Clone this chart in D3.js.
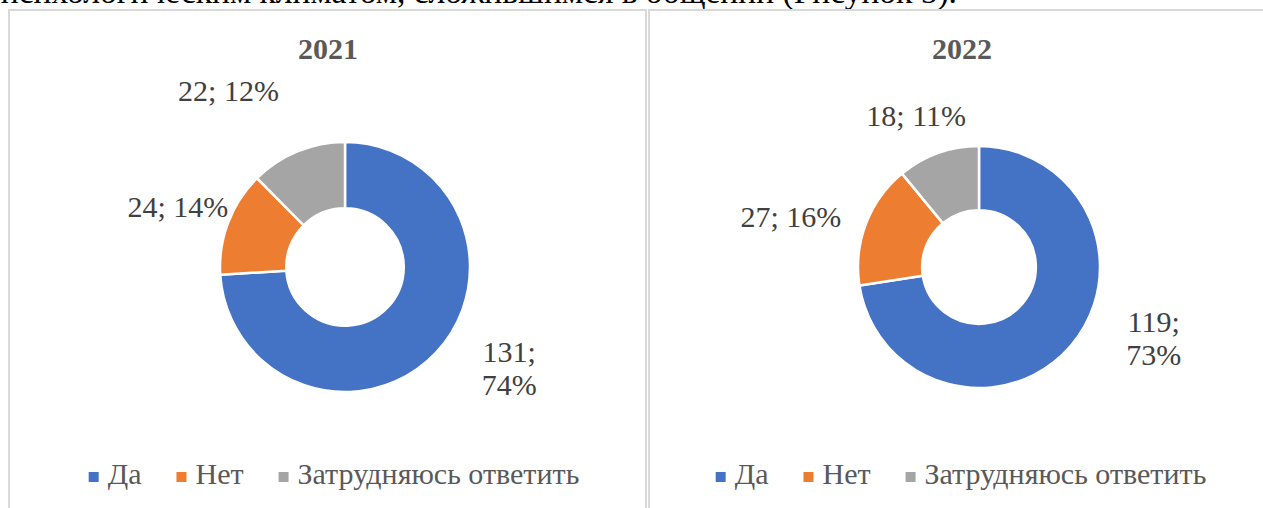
<!DOCTYPE html>
<html>
<head>
<meta charset="utf-8">
<script src="https://cdn.jsdelivr.net/npm/d3@7"></script>
<style>
  body { margin: 0; background: #fff; }
  svg { display: block; }
</style>
</head>
<body>
<div id="chart"></div>
<script>
// data
const categories = ['Да', 'Нет', 'Затрудняюсь ответить'];
const years = ['2021', '2022'];
const values2021 = [131, 24, 22];
const values2022 = [119, 27, 18];
const colors = ['#4472C4', '#ED7D31', '#A5A5A5'];

const width = 1263;
const height = 508;
const font = "Times New Roman, Tinos, serif";

// panel layout (left panel / right panel)
const panels = [
    { x: 9, w: 637, cx: 328, legendCx: 334, r: 125, values: values2021,
      nudge: [[33, -21], [1, 4], [-48, -9]] },
    { x: 649, w: 627, cx: 962, legendCx: 961, r: 121, values: values2022,
      nudge: [[38, -45], [-20, 14], [-2, 19]] }
];

const svg = d3.select('#chart')
    .append('svg')
    .attr('width', width)
    .attr('height', height);

svg.append('rect')
    .attr('width', width)
    .attr('height', height)
    .attr('fill', '#fff');

// cut line of the document text above the figure
svg.append('text')
    .attr('x', 957)
    .attr('y', 3)
    .attr('text-anchor', 'end')
    .style('font-family', font)
    .attr('font-size', 33.5)
    .attr('fill', '#000')
    .text('психологическим климатом, сложившимся в общении (Рисунок 5).');

const pie = d3.pie().sort(null).value(d => d);

panels.forEach((p, i) => {
    const g = svg.append('g');

    // panel border
    g.append('rect')
        .attr('x', p.x)
        .attr('y', 10)
        .attr('width', p.w)
        .attr('height', 600)
        .attr('fill', 'none')
        .attr('stroke', '#d9d9d9')
        .attr('stroke-width', 2);

    // title
    g.append('text')
        .attr('x', p.cx)
        .attr('y', 59)
        .attr('text-anchor', 'middle')
        .style('font-family', font)
        .attr('font-size', 30)
        .attr('font-weight', 'bold')
        .attr('fill', '#595959')
        .text(years[i]);

    const total = d3.sum(p.values);
    const arcs = pie(p.values);

    const arc = d3.arc()
        .innerRadius(p.r * 0.47)
        .outerRadius(p.r);

    const labelArc = d3.arc()
        .innerRadius(180)
        .outerRadius(180);

    const donut = g.append('g')
        .attr('transform', `translate(${p.cx + 17}, 267)`);

    donut.selectAll('.slice')
        .data(arcs)
        .enter()
        .append('path')
        .attr('class', 'slice')
        .attr('d', arc)
        .attr('fill', (d, k) => colors[k])
        .attr('stroke', '#fff')
        .attr('stroke-width', 2.5);

    // data labels "value; pct%"
    const labels = donut.selectAll('.label')
        .data(arcs)
        .enter()
        .append('text')
        .attr('class', 'label')
        .attr('text-anchor', 'middle')
        .style('font-family', font)
        .attr('font-size', 30)
        .attr('fill', '#404040')
        .attr('transform', (d, k) => {
            const c = labelArc.centroid(d);
            return `translate(${c[0] + p.nudge[k][0]}, ${c[1] + p.nudge[k][1]})`;
        });

    labels.each(function (d, k) {
        const pct = Math.round(d.value / total * 100) + '%';
        const lines = k === 0 ? [d.value + ';', pct] : [d.value + '; ' + pct];
        const t = d3.select(this);
        lines.forEach((line, j) => {
            t.append('tspan')
                .attr('x', 0)
                .attr('y', (j - (lines.length - 1) / 2) * 33)
                .attr('dy', '0.32em')
                .text(line);
        });
    });

    // legend, centred under the panel
    const legend = g.append('g');
    const gap = 35;
    let lx = 0;
    categories.forEach((c, k) => {
        legend.append('rect')
            .attr('x', lx)
            .attr('y', 472)
            .attr('width', 10)
            .attr('height', 10)
            .attr('fill', colors[k]);
        const txt = legend.append('text')
            .attr('x', lx + 19)
            .attr('y', 484)
            .style('font-family', font)
            .attr('font-size', 30)
            .attr('fill', '#595959')
            .text(c);
        lx += 19 + txt.node().getComputedTextLength() + gap;
    });
    const legendWidth = lx - gap;
    legend.attr('transform', `translate(${p.legendCx - legendWidth / 2}, 0)`);
});
</script>
</body>
</html>
